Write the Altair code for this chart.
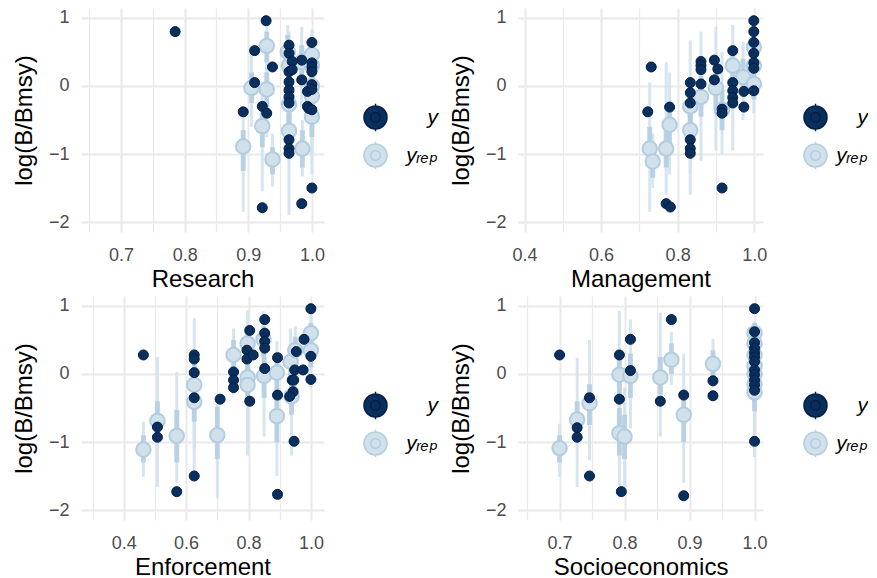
import altair as alt
import pandas as pd

# ---------------- data ----------------
YDOM = [-2.147, 1.147]
y_ticks = [-2, -1.5, -1, -0.5, 0, 0.5, 1]
y_major = [-2, -1, 0, 1]

# Research
res_obs_x = [0.785, 0.928, 0.910, 0.938, 0.910, 0.892, 0.922, 0.929, 0.922,
             0.964, 0.964, 0.964, 0.964, 0.964, 0.964, 0.964, 0.964, 0.964, 0.964,
             0.969, 0.969, 0.984, 0.984, 0.984, 0.993, 0.993, 0.995,
             1.0, 1.0, 1.0, 1.0, 1.0, 1.0, 1.0, 1.0]
res_obs_y = [0.80, 0.96, 0.52, 0.28, 0.05, -0.38, -0.30, -0.40, -1.79,
             0.60, 0.48, 0.21, 0.06, -0.06, -0.16, -0.25, -0.79, -0.92, -0.99,
             0.36, 0.24, 0.38, 0.09, -1.73, -0.08, -0.30, -0.33,
             0.64, 0.34, 0.28, 0.21, 0.02, -0.05, -0.35, -1.50]
res_rep_x = [0.892, 0.905, 0.922, 0.929, 0.929, 0.938, 0.962, 0.964, 0.964, 0.964,
             0.984, 0.985, 1.0, 1.0, 1.0, 1.0, 1.0]
res_rep_med = [-0.89, -0.03, -0.59, 0.59, -0.05, -1.08, 0.50, 0.30, -0.27, -0.66,
               0.35, -0.92, 0.46, 0.30, 0.00, -0.15, -0.45]
res_rep_l50 = [-1.25, -0.25, -0.90, 0.35, -0.35, -1.30, 0.20, 0.00, -0.55, -0.95,
               0.05, -1.20, 0.20, 0.05, -0.30, -0.45, -0.75]
res_rep_h50 = [-0.65, 0.20, -0.30, 0.80, 0.20, -0.90, 0.75, 0.55, 0.00, -0.40,
               0.60, -0.65, 0.65, 0.50, 0.25, 0.10, -0.20]
res_rep_l90 = [-1.85, -0.60, -1.55, 0.00, -0.75, -1.48, -0.20, -0.40, -1.10, -1.90,
               -0.30, -1.33, -0.15, -0.35, -0.80, -1.00, -1.30]
res_rep_h90 = [-0.45, 0.45, 0.05, 0.95, 0.50, -0.70, 0.90, 0.80, 0.45, 0.00,
               0.87, -0.50, 0.83, 0.75, 0.55, 0.40, 0.10]

# Management
man_obs_x = [0.731, 0.722, 0.779, 0.770, 0.781,
             0.833, 0.833, 0.833, 0.833, 0.833, 0.833,
             0.861, 0.861, 0.861, 0.861,
             0.896, 0.896, 0.905,
             0.916, 0.916, 0.916,
             0.944, 0.944, 0.944, 0.944, 0.944,
             0.973, 0.973,
             0.999, 0.999, 0.999, 0.999, 0.999, 0.999, 0.999]
man_obs_y = [0.28, -0.38, -0.31, -1.73, -1.78,
             0.05, -0.10, -0.25, -0.79, -0.92, -0.99,
             0.36, 0.30, 0.24, 0.03,
             0.38, 0.09, 0.25,
             -0.34, -0.40, -1.50,
             0.52, 0.05, -0.07, -0.17, -0.25,
             -0.08, -0.31,
             0.96, 0.80, 0.64, 0.48, 0.34, 0.26, -0.07]
man_rep_x = [0.727, 0.735, 0.770, 0.779, 0.833, 0.833, 0.861, 0.900, 0.916, 0.944,
             0.971, 0.999, 0.999, 0.999]
man_rep_med = [-0.92, -1.11, -0.92, -0.57, -0.30, -0.65, -0.16, -0.03, -0.35, 0.30,
               0.13, 0.57, 0.30, 0.03]
man_rep_l50 = [-1.20, -1.35, -1.20, -0.85, -0.60, -0.95, -0.45, -0.35, -0.65, 0.00,
               -0.15, 0.35, 0.05, -0.20]
man_rep_h50 = [-0.60, -0.85, -0.60, -0.30, 0.00, -0.35, 0.15, 0.25, -0.05, 0.55,
               0.40, 0.75, 0.50, 0.30]
man_rep_l90 = [-1.85, -1.50, -1.60, -1.30, -1.60, -1.30, -1.10, -0.95, -1.00, -0.95,
               -0.50, 0.10, -0.20, -0.40]
man_rep_h90 = [0.05, -0.70, 0.35, 0.20, 0.67, -0.10, 0.80, 0.87, 0.50, 0.90,
               0.65, 0.90, 0.75, 0.55]

# Enforcement
enf_obs_x = [0.463, 0.508, 0.508, 0.570,
             0.626, 0.626, 0.626, 0.626, 0.626,
             0.709, 0.752, 0.752, 0.752,
             0.804, 0.795, 0.795, 0.815, 0.804,
             0.852, 0.852, 0.852, 0.852, 0.852,
             0.893, 0.893, 0.893,
             0.953, 0.948, 0.975, 0.940, 0.945, 0.943, 0.932, 0.946,
             0.978, 1.0, 1.0, 1.0]
enf_obs_y = [0.28, -0.78, -0.93, -1.73,
             0.28, 0.22, 0.02, -0.35, -1.50,
             -0.37, 0.03, -0.09, -0.20,
             0.64, 0.35, 0.22, 0.28, -0.40,
             0.80, 0.60, 0.48, 0.38, 0.08,
             -1.77, 0.24, -0.31,
             0.33, 0.06, 0.06, -0.09, -0.09, -0.26, -0.33, -0.99,
             0.51, 0.96, 0.26, -0.08]
enf_rep_x = [0.463, 0.508, 0.570, 0.626, 0.626, 0.700, 0.752, 0.797, 0.797, 0.797,
             0.848, 0.850, 0.891, 0.891, 0.935, 0.938, 0.950, 1.0, 1.0]
enf_rep_med = [-1.11, -0.69, -0.91, -0.16, -0.41, -0.90, 0.28, 0.45, -0.05, -0.16,
               0.51, -0.03, 0.02, -0.62, 0.18, -0.33, 0.35, 0.60, 0.35]
enf_rep_l50 = [-1.30, -0.95, -1.30, -0.45, -0.70, -1.25, 0.00, 0.15, -0.40, -0.45,
               0.25, -0.35, -0.25, -1.00, -0.10, -0.60, 0.10, 0.40, 0.10]
enf_rep_h50 = [-0.90, -0.40, -0.53, 0.15, -0.10, -0.48, 0.50, 0.70, 0.25, 0.10,
               0.70, 0.25, 0.30, -0.30, 0.40, -0.05, 0.55, 0.75, 0.55]
enf_rep_l90 = [-1.51, -1.66, -1.60, -1.10, -1.44, -1.83, -0.30, -0.30, -1.00, -1.20,
               -0.20, -0.92, -0.60, -1.50, -0.50, -1.20, -0.30, 0.25, -0.20]
enf_rep_h90 = [-0.70, 0.25, 0.03, 0.82, 0.30, -0.38, 0.67, 0.94, 0.60, 0.40,
               0.92, 0.55, 0.48, 0.00, 0.67, 0.30, 0.70, 0.90, 0.75]

# Socioeconomics
soc_obs_x = [0.700, 0.727, 0.727, 0.746, 0.746, 0.792, 0.792, 0.795, 0.809, 0.809,
             0.872, 0.855, 0.891, 0.891, 0.936, 0.936,
             1.0, 1.0, 1.0, 1.0, 1.0, 1.0, 1.0, 1.0, 1.0, 1.0, 1.0, 1.0, 1.0]
soc_obs_y = [0.28, -0.79, -0.93, -0.35, -1.50, 0.28, -0.37, -1.73, 0.51, 0.05,
             0.80, -0.40, -0.31, -1.79, -0.10, -0.32,
             0.96, 0.62, 0.46, 0.38, 0.31, 0.25, 0.18, 0.06, -0.01, -0.09, -0.16, -0.24, -0.99]
soc_rep_x = [0.700, 0.727, 0.746, 0.792, 0.792, 0.800, 0.809, 0.855, 0.872, 0.891,
             0.936, 1.0, 1.0, 1.0, 1.0, 1.0, 1.0, 1.0]
soc_rep_med = [-1.09, -0.67, -0.43, -0.01, -0.87, -0.92, -0.03, -0.05, 0.21, -0.60,
               0.15, 0.60, 0.45, 0.28, 0.12, 0.00, -0.15, -0.27]
soc_rep_l50 = [-1.30, -0.95, -0.75, -0.30, -1.20, -1.25, -0.35, -0.30, 0.00, -1.00,
               -0.05, 0.40, 0.20, 0.05, -0.10, -0.25, -0.40, -0.55]
soc_rep_h50 = [-0.90, -0.40, -0.15, 0.30, -0.50, -0.60, 0.30, 0.25, 0.45, -0.30,
               0.35, 0.75, 0.65, 0.50, 0.35, 0.25, 0.10, 0.00]
soc_rep_l90 = [-1.51, -1.66, -1.27, -0.90, -1.80, -1.75, -0.80, -0.92, -0.16, -1.60,
               -0.20, 0.10, -0.10, -0.30, -0.60, -0.90, -1.10, -1.22]
soc_rep_h90 = [-0.73, 0.24, 0.50, 0.93, -0.10, -0.20, 0.80, 0.90, 0.62, 0.30,
               0.52, 0.77, 0.75, 0.70, 0.60, 0.50, 0.40, 0.30]

series_names = ["y", "yᵣₑₚ"]

# ---------------- styles ----------------
DARK_FILL = "#0a2f5c"
DARK_LINE = "#011f4b"
LIGHT_FILL = "#d1e1ec"
LIGHT_LINE = "#b3cde0"
OUTER_COL = "#d3e2ed"
FONT = "Liberation Sans, Arial, DejaVu Sans"

KEY_PATH = ("M-1,0A1,1,0,1,1,1,0A1,1,0,1,1,-1,0Z"
            "M-0.42,0A0.42,0.42,0,1,1,0.42,0A0.42,0.42,0,1,1,-0.42,0Z"
            "M0,-1L0,-1.2M0,1L0,1.2")


def is_major(major):
    return "indexof([" + ",".join(str(v) for v in major) + "], datum.value) >= 0"


def grid_width(major):
    return {"condition": {"test": is_major(major), "value": 2.0}, "value": 1.2}


def label_expr(major):
    return is_major(major) + " ? datum.label : ''"


def panel(title, ox, oy, rx, rmed, rl50, rh50, rl90, rh90,
          xdom, xticks, xmajor, width, legx, laboff):
    obs = pd.DataFrame({"x": ox, "y": oy, "series": series_names[0]})
    rep = pd.DataFrame({"x": rx, "med": rmed, "l50": rl50, "h50": rh50,
                        "l90": rl90, "h90": rh90, "series": series_names[1]})

    xs = alt.Scale(domain=xdom, nice=False, zero=False)
    ys = alt.Scale(domain=YDOM, nice=False, zero=False)
    xaxis = alt.Axis(title=title, values=xticks, format=".1f",
                     labelExpr=label_expr(xmajor), gridWidth=grid_width(xmajor),
                     labelPadding=14, titlePadding=3)
    yaxis = alt.Axis(title="log(B/Bmsy)", values=y_ticks, format="d",
                     labelExpr=label_expr(y_major), gridWidth=grid_width(y_major),
                     labelPadding=12, titlePadding=12)

    legend = alt.Legend(title=None, orient="none", legendX=legx, legendY=97,
                        symbolType=KEY_PATH, symbolSize=529, symbolStrokeWidth=1.5,
                        labelFont=FONT, labelFontSize=21, labelFontStyle="italic",
                        labelColor="#000000", labelAlign="right", labelOffset=laboff,
                        rowPadding=3)
    fill = alt.Fill("series:N", scale=alt.Scale(domain=series_names,
                                                 range=[DARK_FILL, LIGHT_FILL]),
                    legend=legend)
    stroke = alt.Stroke("series:N", scale=alt.Scale(domain=series_names,
                                                     range=[DARK_LINE, LIGHT_LINE]),
                        legend=legend)

    X = alt.X("x:Q", scale=xs, axis=xaxis)
    outer = alt.Chart(rep).mark_rule(color=OUTER_COL, strokeWidth=3, opacity=0.9,
                                     strokeCap="butt").encode(
        x=X, y=alt.Y("l90:Q", scale=ys, axis=yaxis), y2="h90:Q",
    )
    inner = alt.Chart(rep).mark_rule(color=LIGHT_LINE, strokeWidth=5, opacity=0.85,
                                     strokeCap="butt").encode(
        x=X, y=alt.Y("l50:Q", scale=ys, axis=yaxis), y2="h50:Q",
    )
    reppts = alt.Chart(rep).mark_circle(size=210, strokeWidth=2, opacity=1).encode(
        x=X, y=alt.Y("med:Q", scale=ys, axis=yaxis),
        fill=fill, stroke=stroke,
    )
    obspts = alt.Chart(obs).mark_circle(size=100, strokeWidth=1, opacity=1).encode(
        x=X, y=alt.Y("y:Q", scale=ys, axis=yaxis),
        fill=fill, stroke=stroke,
    )
    return alt.layer(outer, inner, reppts, obspts).properties(width=width, height=224)


p1 = panel("Research", res_obs_x, res_obs_y, res_rep_x, res_rep_med, res_rep_l50,
           res_rep_h50, res_rep_l90, res_rep_h90, [0.637, 1.019],
           [0.65, 0.7, 0.75, 0.8, 0.85, 0.9, 0.95, 1.0], [0.7, 0.8, 0.9, 1.0], 243, 282, 50)
p2 = panel("Management", man_obs_x, man_obs_y, man_rep_x, man_rep_med, man_rep_l50,
           man_rep_h50, man_rep_l90, man_rep_h90, [0.383, 1.023],
           [0.4, 0.5, 0.6, 0.7, 0.8, 0.9, 1.0], [0.4, 0.6, 0.8, 1.0], 245, 285, 40)
p3 = panel("Enforcement", enf_obs_x, enf_obs_y, enf_rep_x, enf_rep_med, enf_rep_l50,
           enf_rep_h50, enf_rep_l90, enf_rep_h90, [0.263, 1.042],
           [0.3, 0.4, 0.5, 0.6, 0.7, 0.8, 0.9, 1.0], [0.4, 0.6, 0.8, 1.0], 243, 282, 50)
p4 = panel("Socioeconomics", soc_obs_x, soc_obs_y, soc_rep_x, soc_rep_med, soc_rep_l50,
           soc_rep_h50, soc_rep_l90, soc_rep_h90, [0.636, 1.013],
           [0.65, 0.7, 0.75, 0.8, 0.85, 0.9, 0.95, 1.0], [0.7, 0.8, 0.9, 1.0], 245, 285, 40)

chart = alt.concat(p1, p2, p3, p4, columns=2,
                   spacing={"row": 64, "column": 194}, bounds="flush").resolve_scale(
    x="independent", y="independent", fill="independent", stroke="independent"
).properties(
    padding={"left": 4, "top": 0, "right": 0, "bottom": 0}
).configure_view(
    strokeOpacity=0
).configure_axis(
    labelFont=FONT, labelFontSize=18, labelColor="#4d4d4d",
    titleFont=FONT, titleFontSize=24, titleFontWeight="normal", titleColor="#000000",
    domain=False, ticks=False, gridColor="#e9e9e9"
)

chart.save("out.html", embed_options={"renderer": "svg", "actions": False})
